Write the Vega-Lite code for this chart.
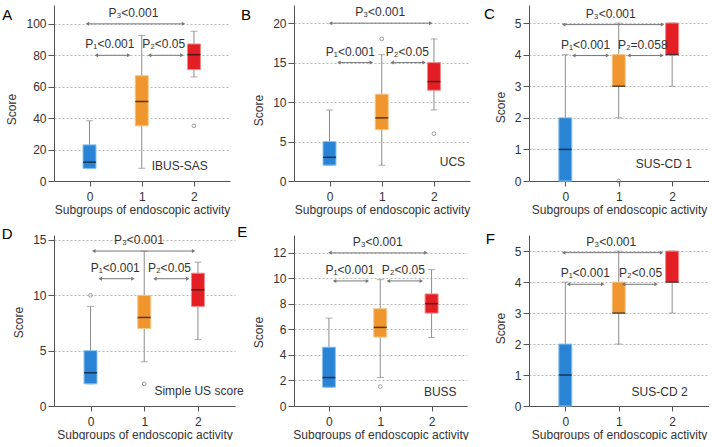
{
 "$schema": "https://vega.github.io/schema/vega-lite/v6.json",
 "background": "white",
 "padding": {"left": 1, "top": 5, "right": 0, "bottom": 0},
 "config": {
  "font": "Liberation Sans",
  "view": {"stroke": null},
  "scale": {"continuousPadding": 0},
  "axis": {"labelFontSize": 12, "titleFontSize": 12, "titleFontWeight": "normal", "labelColor": "#333", "titleColor": "#333", "domainColor": "#555", "tickColor": "#555", "gridColor": "#bbb", "gridDash": [2, 2]},
  "axisX": {"grid": false, "tickSize": 5, "labelPadding": 5, "titlePadding": 2, "labelAngle": 0, "format": "d"},
  "axisY": {"grid": true, "tickSize": 6, "labelPadding": 2, "titlePadding": 7, "tickCount": 20, "labelOverlap": false, "format": "d"},
  "title": {"fontSize": 15, "fontWeight": "normal", "anchor": "start", "frame": "bounds", "color": "#000"},
  "text": {"font": "Liberation Sans", "fontSize": 12, "color": "#333"}
 },
 "concat": [
  {"width": 176, "height": 176, "title": {"text": "A", "dx": -3.7, "offset": -17.5},
   "layer": [
    {"data": {"values": [{"g":0,"lo":8,"q1":8,"med":12,"q3":23,"hi":38.3},{"g":1,"lo":8.1,"q1":35.1,"med":50.6,"q3":67,"hi":92.6},{"g":2,"lo":66.2,"q1":70.9,"med":80.4,"q3":87.2,"hi":95.3}]},
     "layer": [
      {"mark": {"type": "rule", "color": "#8c8c8c"},
       "encoding": {"x": {"field": "g", "type": "quantitative", "scale": {"domain": [-0.68, 2.69], "nice": false, "zero": false, "padding": 0}, "axis": {"values": [0,1,2], "format": "d", "title": "Subgroups of endoscopic activity"}},
        "y": {"field": "lo", "type": "quantitative", "scale": {"domain": [0, 112], "nice": false, "zero": false}, "axis": {"values": [0,20,40,60,80,100], "tickCount": 20, "format": "d", "title": "Score", "titleY": 104}},
        "y2": {"field": "hi"}}},
      {"mark": {"type": "tick", "orient": "horizontal", "size": 7, "thickness": 1, "color": "#8c8c8c"}, "encoding": {"x": {"field": "g", "type": "quantitative"}, "y": {"field": "lo", "type": "quantitative"}}},
      {"mark": {"type": "tick", "orient": "horizontal", "size": 7, "thickness": 1, "color": "#8c8c8c"}, "encoding": {"x": {"field": "g", "type": "quantitative"}, "y": {"field": "hi", "type": "quantitative"}}},
      {"mark": {"type": "bar", "orient": "vertical", "size": 13, "strokeWidth": 1}, "encoding": {"x": {"field": "g", "type": "quantitative"}, "y": {"field": "q1", "type": "quantitative"}, "y2": {"field": "q3"},
        "fill": {"field": "g", "type": "nominal", "scale": {"domain": [0,1,2], "range": ["#2a84d6", "#f0962f", "#e31e24"]}, "legend": null},
        "stroke": {"field": "g", "type": "nominal", "scale": {"domain": [0,1,2], "range": ["#8cc4ee", "#f7c68a", "#f08a8a"]}, "legend": null}}},
      {"mark": {"type": "tick", "orient": "horizontal", "size": 13, "thickness": 1.5, "color": "#111"}, "encoding": {"x": {"field": "g", "type": "quantitative"}, "y": {"field": "med", "type": "quantitative"}}}
     ]},
    {"data": {"values": [{"g":2,"v":35.1}]}, "mark": {"type": "point", "shape": "circle", "size": 14, "filled": false, "color": "#777", "strokeWidth": 1}, "encoding": {"x": {"field": "g", "type": "quantitative"}, "y": {"field": "v", "type": "quantitative"}}},
    {"data": {"values": [{"x1":-0.04,"x2":1.8,"y":100,"xl":0.84,"label":"P₃<0.001"},{"x1":0.13,"x2":0.75,"y":80,"xl":0.39,"label":"P₁<0.001"},{"x1":1.15,"x2":1.77,"y":80,"xl":1.42,"label":"P₂<0.05"}]},
     "layer": [
      {"mark": {"type": "rule", "color": "#777", "strokeWidth": 1}, "encoding": {"x": {"field": "x1", "type": "quantitative"}, "x2": {"field": "x2"}, "y": {"field": "y", "type": "quantitative"}}},
      {"mark": {"type": "point", "shape": "triangle-left", "size": 16, "filled": true, "color": "#777", "opacity": 1}, "encoding": {"x": {"field": "x1", "type": "quantitative"}, "y": {"field": "y", "type": "quantitative"}}},
      {"mark": {"type": "point", "shape": "triangle-right", "size": 16, "filled": true, "color": "#777", "opacity": 1}, "encoding": {"x": {"field": "x2", "type": "quantitative"}, "y": {"field": "y", "type": "quantitative"}}},
      {"mark": {"type": "text", "baseline": "alphabetic", "dy": -7}, "encoding": {"x": {"field": "xl", "type": "quantitative"}, "y": {"field": "y", "type": "quantitative"}, "text": {"field": "label"}}}
     ]},
    {"data": {"values": [{"x":1.19,"y":9.8,"label":"IBUS-SAS"}]}, "mark": {"type": "text", "align": "left", "baseline": "middle"}, "encoding": {"x": {"field": "x", "type": "quantitative"}, "y": {"field": "y", "type": "quantitative"}, "text": {"field": "label"}}}
   ]},
  {"width": 176, "height": 176, "title": {"text": "B", "dx": -11.7, "offset": -18},
   "layer": [
    {"data": {"values": [{"g":0,"lo":2,"q1":2,"med":3,"q3":5,"hi":9},{"g":1,"lo":2,"q1":6.5,"med":8,"q3":11,"hi":16},{"g":2,"lo":9,"q1":11.5,"med":12.6,"q3":15,"hi":18}]},
     "layer": [
      {"mark": {"type": "rule", "color": "#8c8c8c"},
       "encoding": {"x": {"field": "g", "type": "quantitative", "scale": {"domain": [-0.68, 2.69], "nice": false, "zero": false, "padding": 0}, "axis": {"values": [0,1,2], "format": "d", "title": "Subgroups of endoscopic activity"}},
        "y": {"field": "lo", "type": "quantitative", "scale": {"domain": [0, 22.3], "nice": false, "zero": false}, "axis": {"values": [0,5,10,15,20], "tickCount": 20, "format": "d", "title": "Score", "titleY": 105}},
        "y2": {"field": "hi"}}},
      {"mark": {"type": "tick", "orient": "horizontal", "size": 7, "thickness": 1, "color": "#8c8c8c"}, "encoding": {"x": {"field": "g", "type": "quantitative"}, "y": {"field": "lo", "type": "quantitative"}}},
      {"mark": {"type": "tick", "orient": "horizontal", "size": 7, "thickness": 1, "color": "#8c8c8c"}, "encoding": {"x": {"field": "g", "type": "quantitative"}, "y": {"field": "hi", "type": "quantitative"}}},
      {"mark": {"type": "bar", "orient": "vertical", "size": 13, "strokeWidth": 1}, "encoding": {"x": {"field": "g", "type": "quantitative"}, "y": {"field": "q1", "type": "quantitative"}, "y2": {"field": "q3"},
        "fill": {"field": "g", "type": "nominal", "scale": {"domain": [0,1,2], "range": ["#2a84d6", "#f0962f", "#e31e24"]}, "legend": null},
        "stroke": {"field": "g", "type": "nominal", "scale": {"domain": [0,1,2], "range": ["#8cc4ee", "#f7c68a", "#f08a8a"]}, "legend": null}}},
      {"mark": {"type": "tick", "orient": "horizontal", "size": 13, "thickness": 1.5, "color": "#111"}, "encoding": {"x": {"field": "g", "type": "quantitative"}, "y": {"field": "med", "type": "quantitative"}}}
     ]},
    {"data": {"values": [{"g":1,"v":18},{"g":2,"v":6}]}, "mark": {"type": "point", "shape": "circle", "size": 14, "filled": false, "color": "#777", "strokeWidth": 1}, "encoding": {"x": {"field": "g", "type": "quantitative"}, "y": {"field": "v", "type": "quantitative"}}},
    {"data": {"values": [{"x1":0.02,"x2":1.94,"y":20,"xl":0.97,"label":"P₃<0.001"},{"x1":0.18,"x2":0.8,"y":15,"xl":0.4,"label":"P₁<0.001"},{"x1":1.2,"x2":1.81,"y":15,"xl":1.49,"label":"P₂<0.05"}]},
     "layer": [
      {"mark": {"type": "rule", "color": "#777", "strokeWidth": 1}, "encoding": {"x": {"field": "x1", "type": "quantitative"}, "x2": {"field": "x2"}, "y": {"field": "y", "type": "quantitative"}}},
      {"mark": {"type": "point", "shape": "triangle-left", "size": 16, "filled": true, "color": "#777", "opacity": 1}, "encoding": {"x": {"field": "x1", "type": "quantitative"}, "y": {"field": "y", "type": "quantitative"}}},
      {"mark": {"type": "point", "shape": "triangle-right", "size": 16, "filled": true, "color": "#777", "opacity": 1}, "encoding": {"x": {"field": "x2", "type": "quantitative"}, "y": {"field": "y", "type": "quantitative"}}},
      {"mark": {"type": "text", "baseline": "alphabetic", "dy": -7}, "encoding": {"x": {"field": "xl", "type": "quantitative"}, "y": {"field": "y", "type": "quantitative"}, "text": {"field": "label"}}}
     ]},
    {"data": {"values": [{"x":2.11,"y":2.35,"label":"UCS"}]}, "mark": {"type": "text", "align": "left", "baseline": "middle"}, "encoding": {"x": {"field": "x", "type": "quantitative"}, "y": {"field": "y", "type": "quantitative"}, "text": {"field": "label"}}}
   ]},
  {"width": 180, "height": 176, "title": {"text": "C", "dx": -10.3, "offset": -17},
   "layer": [
    {"data": {"values": [{"g":0,"lo":0,"q1":0,"med":1,"q3":2,"hi":4},{"g":1,"lo":2,"q1":3,"med":3,"q3":4,"hi":5},{"g":2,"lo":3,"q1":4,"med":4,"q3":5,"hi":5}]},
     "layer": [
      {"mark": {"type": "rule", "color": "#8c8c8c"},
       "encoding": {"x": {"field": "g", "type": "quantitative", "scale": {"domain": [-0.68, 2.69], "nice": false, "zero": false, "padding": 0}, "axis": {"values": [0,1,2], "format": "d", "title": "Subgroups of endoscopic activity"}},
        "y": {"field": "lo", "type": "quantitative", "scale": {"domain": [0, 5.57], "nice": false, "zero": false}, "axis": {"values": [0,1,2,3,4,5], "tickCount": 20, "format": "d", "title": "Score", "titleY": 102}},
        "y2": {"field": "hi"}}},
      {"mark": {"type": "tick", "orient": "horizontal", "size": 7, "thickness": 1, "color": "#8c8c8c"}, "encoding": {"x": {"field": "g", "type": "quantitative"}, "y": {"field": "lo", "type": "quantitative"}}},
      {"mark": {"type": "tick", "orient": "horizontal", "size": 7, "thickness": 1, "color": "#8c8c8c"}, "encoding": {"x": {"field": "g", "type": "quantitative"}, "y": {"field": "hi", "type": "quantitative"}}},
      {"mark": {"type": "bar", "orient": "vertical", "size": 13, "strokeWidth": 1}, "encoding": {"x": {"field": "g", "type": "quantitative"}, "y": {"field": "q1", "type": "quantitative"}, "y2": {"field": "q3"},
        "fill": {"field": "g", "type": "nominal", "scale": {"domain": [0,1,2], "range": ["#2a84d6", "#f0962f", "#e31e24"]}, "legend": null},
        "stroke": {"field": "g", "type": "nominal", "scale": {"domain": [0,1,2], "range": ["#8cc4ee", "#f7c68a", "#f08a8a"]}, "legend": null}}},
      {"mark": {"type": "tick", "orient": "horizontal", "size": 13, "thickness": 1.5, "color": "#111"}, "encoding": {"x": {"field": "g", "type": "quantitative"}, "y": {"field": "med", "type": "quantitative"}}}
     ]},
    {"data": {"values": [{"g":1,"v":0}]}, "mark": {"type": "point", "shape": "circle", "size": 14, "filled": false, "color": "#777", "strokeWidth": 1}, "encoding": {"x": {"field": "g", "type": "quantitative"}, "y": {"field": "v", "type": "quantitative"}}},
    {"data": {"values": [{"x1":-0.03,"x2":1.82,"y":4.95,"xl":0.85,"label":"P₃<0.001"},{"x1":0.16,"x2":0.79,"y":3.97,"xl":0.38,"label":"P₁<0.001"},{"x1":1.19,"x2":1.81,"y":3.97,"xl":1.45,"label":"P₂=0.058"}]},
     "layer": [
      {"mark": {"type": "rule", "color": "#777", "strokeWidth": 1}, "encoding": {"x": {"field": "x1", "type": "quantitative"}, "x2": {"field": "x2"}, "y": {"field": "y", "type": "quantitative"}}},
      {"mark": {"type": "point", "shape": "triangle-left", "size": 16, "filled": true, "color": "#777", "opacity": 1}, "encoding": {"x": {"field": "x1", "type": "quantitative"}, "y": {"field": "y", "type": "quantitative"}}},
      {"mark": {"type": "point", "shape": "triangle-right", "size": 16, "filled": true, "color": "#777", "opacity": 1}, "encoding": {"x": {"field": "x2", "type": "quantitative"}, "y": {"field": "y", "type": "quantitative"}}},
      {"mark": {"type": "text", "baseline": "alphabetic", "dy": -7}, "encoding": {"x": {"field": "xl", "type": "quantitative"}, "y": {"field": "y", "type": "quantitative"}, "text": {"field": "label"}}}
     ]},
    {"data": {"values": [{"x":1.32,"y":0.53,"label":"SUS-CD 1"}]}, "mark": {"type": "text", "align": "left", "baseline": "middle"}, "encoding": {"x": {"field": "x", "type": "quantitative"}, "y": {"field": "y", "type": "quantitative"}, "text": {"field": "label"}}}
   ]},
  {"width": 181, "height": 171, "title": {"text": "D", "dx": -11, "offset": -8},
   "layer": [
    {"data": {"values": [{"g":0,"lo":2,"q1":2,"med":3,"q3":5,"hi":9},{"g":1,"lo":4,"q1":7,"med":8,"q3":10,"hi":14},{"g":2,"lo":6,"q1":9,"med":10.5,"q3":12,"hi":13}]},
     "layer": [
      {"mark": {"type": "rule", "color": "#8c8c8c"},
       "encoding": {"x": {"field": "g", "type": "quantitative", "scale": {"domain": [-0.68, 2.69], "nice": false, "zero": false, "padding": 0}, "axis": {"values": [0,1,2], "format": "d", "title": "Subgroups of endoscopic activity"}},
        "y": {"field": "lo", "type": "quantitative", "scale": {"domain": [0, 15.45], "nice": false, "zero": false}, "axis": {"values": [0,5,10,15], "tickCount": 20, "format": "d", "title": "Score", "titleY": 87}},
        "y2": {"field": "hi"}}},
      {"mark": {"type": "tick", "orient": "horizontal", "size": 7, "thickness": 1, "color": "#8c8c8c"}, "encoding": {"x": {"field": "g", "type": "quantitative"}, "y": {"field": "lo", "type": "quantitative"}}},
      {"mark": {"type": "tick", "orient": "horizontal", "size": 7, "thickness": 1, "color": "#8c8c8c"}, "encoding": {"x": {"field": "g", "type": "quantitative"}, "y": {"field": "hi", "type": "quantitative"}}},
      {"mark": {"type": "bar", "orient": "vertical", "size": 13, "strokeWidth": 1}, "encoding": {"x": {"field": "g", "type": "quantitative"}, "y": {"field": "q1", "type": "quantitative"}, "y2": {"field": "q3"},
        "fill": {"field": "g", "type": "nominal", "scale": {"domain": [0,1,2], "range": ["#2a84d6", "#f0962f", "#e31e24"]}, "legend": null},
        "stroke": {"field": "g", "type": "nominal", "scale": {"domain": [0,1,2], "range": ["#8cc4ee", "#f7c68a", "#f08a8a"]}, "legend": null}}},
      {"mark": {"type": "tick", "orient": "horizontal", "size": 13, "thickness": 1.5, "color": "#111"}, "encoding": {"x": {"field": "g", "type": "quantitative"}, "y": {"field": "med", "type": "quantitative"}}}
     ]},
    {"data": {"values": [{"g":0,"v":10},{"g":1,"v":2}]}, "mark": {"type": "point", "shape": "circle", "size": 14, "filled": false, "color": "#777", "strokeWidth": 1}, "encoding": {"x": {"field": "g", "type": "quantitative"}, "y": {"field": "v", "type": "quantitative"}}},
    {"data": {"values": [{"x1":0.06,"x2":1.92,"y":14,"xl":0.9,"label":"P₃<0.001"},{"x1":0.18,"x2":0.79,"y":11.5,"xl":0.46,"label":"P₁<0.001"},{"x1":1.2,"x2":1.81,"y":11.5,"xl":1.47,"label":"P₂<0.05"}]},
     "layer": [
      {"mark": {"type": "rule", "color": "#777", "strokeWidth": 1}, "encoding": {"x": {"field": "x1", "type": "quantitative"}, "x2": {"field": "x2"}, "y": {"field": "y", "type": "quantitative"}}},
      {"mark": {"type": "point", "shape": "triangle-left", "size": 16, "filled": true, "color": "#777", "opacity": 1}, "encoding": {"x": {"field": "x1", "type": "quantitative"}, "y": {"field": "y", "type": "quantitative"}}},
      {"mark": {"type": "point", "shape": "triangle-right", "size": 16, "filled": true, "color": "#777", "opacity": 1}, "encoding": {"x": {"field": "x2", "type": "quantitative"}, "y": {"field": "y", "type": "quantitative"}}},
      {"mark": {"type": "text", "baseline": "alphabetic", "dy": -7}, "encoding": {"x": {"field": "xl", "type": "quantitative"}, "y": {"field": "y", "type": "quantitative"}, "text": {"field": "label"}}}
     ]},
    {"data": {"values": [{"x":1.19,"y":1.36,"label":"Simple US score"}]}, "mark": {"type": "text", "align": "left", "baseline": "middle"}, "encoding": {"x": {"field": "x", "type": "quantitative"}, "y": {"field": "y", "type": "quantitative"}, "text": {"field": "label"}}}
   ]},
  {"width": 173, "height": 171, "title": {"text": "E", "dx": -15.4, "offset": -5},
   "layer": [
    {"data": {"values": [{"g":0,"lo":1.47,"q1":1.47,"med":2.23,"q3":4.61,"hi":6.89},{"g":1,"lo":2.23,"q1":5.4,"med":6.16,"q3":7.62,"hi":9.9},{"g":2,"lo":5.37,"q1":7.28,"med":8.02,"q3":8.78,"hi":10.69}]},
     "layer": [
      {"mark": {"type": "rule", "color": "#8c8c8c"},
       "encoding": {"x": {"field": "g", "type": "quantitative", "scale": {"domain": [-0.68, 2.69], "nice": false, "zero": false, "padding": 0}, "axis": {"values": [0,1,2], "format": "d", "title": "Subgroups of endoscopic activity"}},
        "y": {"field": "lo", "type": "quantitative", "scale": {"domain": [0, 13.4], "nice": false, "zero": false}, "axis": {"values": [0,2,4,6,8,10,12], "tickCount": 20, "format": "d", "title": "Score", "titleY": 97}},
        "y2": {"field": "hi"}}},
      {"mark": {"type": "tick", "orient": "horizontal", "size": 7, "thickness": 1, "color": "#8c8c8c"}, "encoding": {"x": {"field": "g", "type": "quantitative"}, "y": {"field": "lo", "type": "quantitative"}}},
      {"mark": {"type": "tick", "orient": "horizontal", "size": 7, "thickness": 1, "color": "#8c8c8c"}, "encoding": {"x": {"field": "g", "type": "quantitative"}, "y": {"field": "hi", "type": "quantitative"}}},
      {"mark": {"type": "bar", "orient": "vertical", "size": 13, "strokeWidth": 1}, "encoding": {"x": {"field": "g", "type": "quantitative"}, "y": {"field": "q1", "type": "quantitative"}, "y2": {"field": "q3"},
        "fill": {"field": "g", "type": "nominal", "scale": {"domain": [0,1,2], "range": ["#2a84d6", "#f0962f", "#e31e24"]}, "legend": null},
        "stroke": {"field": "g", "type": "nominal", "scale": {"domain": [0,1,2], "range": ["#8cc4ee", "#f7c68a", "#f08a8a"]}, "legend": null}}},
      {"mark": {"type": "tick", "orient": "horizontal", "size": 13, "thickness": 1.5, "color": "#111"}, "encoding": {"x": {"field": "g", "type": "quantitative"}, "y": {"field": "med", "type": "quantitative"}}}
     ]},
    {"data": {"values": [{"g":1,"v":1.52}]}, "mark": {"type": "point", "shape": "circle", "size": 14, "filled": false, "color": "#777", "strokeWidth": 1}, "encoding": {"x": {"field": "g", "type": "quantitative"}, "y": {"field": "v", "type": "quantitative"}}},
    {"data": {"values": [{"x1":0.02,"x2":1.89,"y":12,"xl":0.95,"label":"P₃<0.001"},{"x1":0.11,"x2":0.75,"y":9.8,"xl":0.41,"label":"P₁<0.001"},{"x1":1.16,"x2":1.8,"y":9.8,"xl":1.45,"label":"P₂<0.05"}]},
     "layer": [
      {"mark": {"type": "rule", "color": "#777", "strokeWidth": 1}, "encoding": {"x": {"field": "x1", "type": "quantitative"}, "x2": {"field": "x2"}, "y": {"field": "y", "type": "quantitative"}}},
      {"mark": {"type": "point", "shape": "triangle-left", "size": 16, "filled": true, "color": "#777", "opacity": 1}, "encoding": {"x": {"field": "x1", "type": "quantitative"}, "y": {"field": "y", "type": "quantitative"}}},
      {"mark": {"type": "point", "shape": "triangle-right", "size": 16, "filled": true, "color": "#777", "opacity": 1}, "encoding": {"x": {"field": "x2", "type": "quantitative"}, "y": {"field": "y", "type": "quantitative"}}},
      {"mark": {"type": "text", "baseline": "alphabetic", "dy": -7}, "encoding": {"x": {"field": "xl", "type": "quantitative"}, "y": {"field": "y", "type": "quantitative"}, "text": {"field": "label"}}}
     ]},
    {"data": {"values": [{"x":1.85,"y":1.13,"label":"BUSS"}]}, "mark": {"type": "text", "align": "left", "baseline": "middle"}, "encoding": {"x": {"field": "x", "type": "quantitative"}, "y": {"field": "y", "type": "quantitative"}, "text": {"field": "label"}}}
   ]},
  {"width": 180, "height": 171, "title": {"text": "F", "dx": -8.6, "offset": -12},
   "layer": [
    {"data": {"values": [{"g":0,"lo":0,"q1":0,"med":1,"q3":2,"hi":4},{"g":1,"lo":2,"q1":3,"med":3,"q3":4,"hi":5},{"g":2,"lo":3,"q1":4,"med":4,"q3":5,"hi":5}]},
     "layer": [
      {"mark": {"type": "rule", "color": "#8c8c8c"},
       "encoding": {"x": {"field": "g", "type": "quantitative", "scale": {"domain": [-0.68, 2.69], "nice": false, "zero": false, "padding": 0}, "axis": {"values": [0,1,2], "format": "d", "title": "Subgroups of endoscopic activity"}},
        "y": {"field": "lo", "type": "quantitative", "scale": {"domain": [0, 5.52], "nice": false, "zero": false}, "axis": {"values": [0,1,2,3,4,5], "tickCount": 20, "format": "d", "title": "Score", "titleY": 93}},
        "y2": {"field": "hi"}}},
      {"mark": {"type": "tick", "orient": "horizontal", "size": 7, "thickness": 1, "color": "#8c8c8c"}, "encoding": {"x": {"field": "g", "type": "quantitative"}, "y": {"field": "lo", "type": "quantitative"}}},
      {"mark": {"type": "tick", "orient": "horizontal", "size": 7, "thickness": 1, "color": "#8c8c8c"}, "encoding": {"x": {"field": "g", "type": "quantitative"}, "y": {"field": "hi", "type": "quantitative"}}},
      {"mark": {"type": "bar", "orient": "vertical", "size": 13, "strokeWidth": 1}, "encoding": {"x": {"field": "g", "type": "quantitative"}, "y": {"field": "q1", "type": "quantitative"}, "y2": {"field": "q3"},
        "fill": {"field": "g", "type": "nominal", "scale": {"domain": [0,1,2], "range": ["#2a84d6", "#f0962f", "#e31e24"]}, "legend": null},
        "stroke": {"field": "g", "type": "nominal", "scale": {"domain": [0,1,2], "range": ["#8cc4ee", "#f7c68a", "#f08a8a"]}, "legend": null}}},
      {"mark": {"type": "tick", "orient": "horizontal", "size": 13, "thickness": 1.5, "color": "#111"}, "encoding": {"x": {"field": "g", "type": "quantitative"}, "y": {"field": "med", "type": "quantitative"}}}
     ]},
    {"data": {"values": [{"x1":-0.03,"x2":1.8,"y":4.95,"xl":0.86,"label":"P₃<0.001"},{"x1":0.06,"x2":0.7,"y":3.93,"xl":0.375,"label":"P₁<0.001"},{"x1":1.09,"x2":1.7,"y":3.93,"xl":1.41,"label":"P₂<0.05"}]},
     "layer": [
      {"mark": {"type": "rule", "color": "#777", "strokeWidth": 1}, "encoding": {"x": {"field": "x1", "type": "quantitative"}, "x2": {"field": "x2"}, "y": {"field": "y", "type": "quantitative"}}},
      {"mark": {"type": "point", "shape": "triangle-left", "size": 16, "filled": true, "color": "#777", "opacity": 1}, "encoding": {"x": {"field": "x1", "type": "quantitative"}, "y": {"field": "y", "type": "quantitative"}}},
      {"mark": {"type": "point", "shape": "triangle-right", "size": 16, "filled": true, "color": "#777", "opacity": 1}, "encoding": {"x": {"field": "x2", "type": "quantitative"}, "y": {"field": "y", "type": "quantitative"}}},
      {"mark": {"type": "text", "baseline": "alphabetic", "dy": -7}, "encoding": {"x": {"field": "xl", "type": "quantitative"}, "y": {"field": "y", "type": "quantitative"}, "text": {"field": "label"}}}
     ]},
    {"data": {"values": [{"x":1.24,"y":0.46,"label":"SUS-CD 2"}]}, "mark": {"type": "text", "align": "left", "baseline": "middle"}, "encoding": {"x": {"field": "x", "type": "quantitative"}, "y": {"field": "y", "type": "quantitative"}, "text": {"field": "label"}}}
   ]}
 ],
 "columns": 3,
 "spacing": {"row": 54, "column": 59},
 "bounds": "flush",
 "align": "none"
}
